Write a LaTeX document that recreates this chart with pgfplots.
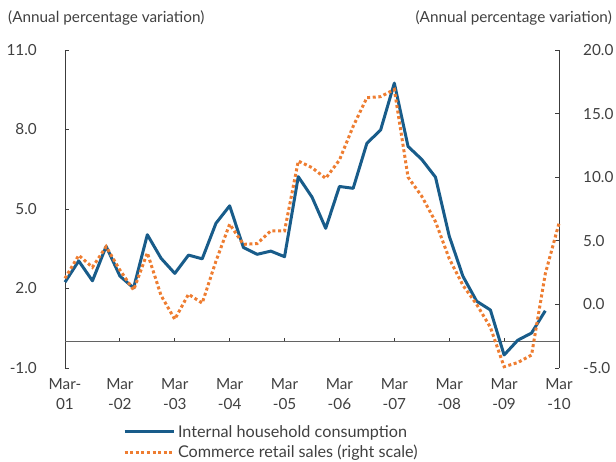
\documentclass[border=0pt]{standalone}
\usepackage{fontspec}
\setmainfont{Lato}
\usepackage{pgfplots}
\pgfplotsset{compat=1.18}
\definecolor{cblue}{RGB}{24,92,138}
\definecolor{corange}{RGB}{238,125,49}
\definecolor{txt}{RGB}{64,64,64}
\definecolor{axc}{RGB}{60,60,60}
\newcommand{\tfont}{\fontsize{15.3}{20}\selectfont}
\newcommand{\lfont}{\fontsize{16.2}{20}\selectfont}

\begin{document}
\begin{tikzpicture}[x=1pt,y=1pt]
\path[use as bounding box] (0,0) rectangle (616,462);
\node[anchor=west, font=\tfont, text=txt, inner sep=0pt] at (8,444) {(Annual percentage variation)};
\node[anchor=east, font=\tfont, text=txt, inner sep=0pt] at (612,444) {(Annual percentage variation)};

\begin{axis}[
  at={(65pt,94pt)}, anchor=south west, scale only axis,
  width=494pt, height=318pt,
  xmin=0, xmax=36, ymin=-1, ymax=11,
  axis y line*=left, axis x line*=bottom,
  x axis line style={draw=none},
  y axis line style={axc, line width=0.8pt},
  xtick={0,4,...,36},
  xticklabels={{Mar-\\01},{Mar\\-02},{Mar\\-03},{Mar\\-04},{Mar\\-05},{Mar\\-06},{Mar\\-07},{Mar\\-08},{Mar\\-09},{Mar\\-10}},
  x tick style={draw=none},
  xticklabel style={font=\tfont, text=txt, align=center, anchor=north, inner sep=0pt, yshift=-10pt},
  ytick={-1,2,5,8,11},
  tick align=inside, major tick length=4pt,
  y tick style={axc, line width=0.8pt},
  yticklabel style={font=\tfont, text=txt, anchor=east, inner sep=0pt, xshift=-28pt,
    /pgf/number format/.cd, fixed, fixed zerofill, precision=1, assume math mode=true},
  clip=false,
]
\draw[axc!80, line width=0.9pt] (axis cs:0,0) -- (axis cs:36,0);
\pgfplotsinvokeforeach{4,8,12,16,20,24,28,32,36}{\draw[axc, line width=0.8pt] (axis cs:#1,0) -- (axis cs:#1,0.15);}
\addplot[cblue, line width=3pt, line join=round] coordinates {
(0,2.24) (1,3.04) (2,2.29) (3,3.59) (4,2.47) (5,2.02) (6,4.03) (7,3.14) (8,2.57) (9,3.26)
(10,3.12) (11,4.46) (12,5.12) (13,3.55) (14,3.29) (15,3.41) (16,3.20) (17,6.22) (18,5.45) (19,4.27)
(20,5.85) (21,5.78) (22,7.48) (23,7.98) (24,9.75) (25,7.36) (26,6.87) (27,6.20) (28,3.98) (29,2.46)
(30,1.52) (31,1.19) (32,-0.51) (33,0.05) (34,0.32) (35,1.16)
};
\end{axis}

\begin{axis}[
  at={(65pt,94pt)}, anchor=south west, scale only axis,
  width=494pt, height=318pt,
  xmin=0, xmax=36, ymin=-5, ymax=20,
  axis y line*=right, axis x line=none,
  y axis line style={axc, line width=0.8pt},
  ytick={-5,0,...,20},
  tick align=inside, major tick length=4pt,
  y tick style={axc, line width=0.8pt},
  yticklabel style={font=\tfont, text=txt, anchor=west, inner sep=0pt, xshift=24pt,
    /pgf/number format/.cd, fixed, fixed zerofill, precision=1, assume math mode=true},
  clip=false,
  legend style={at={(0.117,-0.176)}, anchor=north west, draw=none, fill=none,
    font=\lfont, text=txt, row sep=4.5pt, inner sep=0pt,
    nodes={inner xsep=3pt, inner ysep=1pt}},
  legend cell align=left,
  legend image code/.code={\draw[#1] (0pt,0pt) -- (49pt,0pt);},
]
\addlegendimage{cblue, line width=3pt}
\addlegendentry{Internal household consumption}
\addplot[corange, line width=3pt, dash pattern=on 3pt off 2.6pt] coordinates {
(0,2.05) (1,3.86) (2,2.92) (3,4.54) (4,2.70) (5,1.13) (6,4.05) (7,0.7) (8,-1.17) (9,0.80)
(10,0.10) (11,3.4) (12,6.31) (13,4.72) (14,4.78) (15,5.78) (16,5.78) (17,11.27) (18,10.75) (19,9.91)
(20,11.35) (21,14.0) (22,16.25) (23,16.33) (24,16.9) (25,10.0) (26,8.5) (27,6.5) (28,3.6) (29,1.5)
(30,0.0) (31,-1.8) (32,-4.9) (33,-4.57) (34,-3.98) (35,2.4) (36,6.38)
};
\addlegendentry{Commerce retail sales (right scale)}
\end{axis}
\end{tikzpicture}
\end{document}
